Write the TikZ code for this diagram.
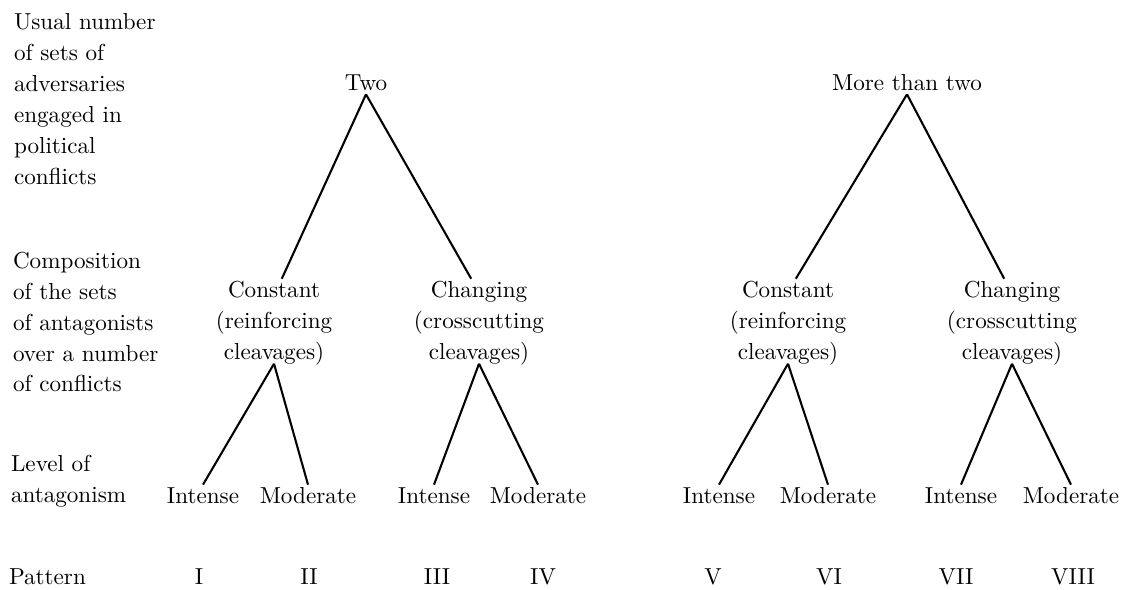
\documentclass[tikz,border=0pt]{standalone}
\usepackage{tikz}
\tikzset{
    heading/.style = {anchor=west, align=left, inner sep=0pt},
    branch/.style = {align=center, inner sep=0.5pt},
    leaf/.style = {inner sep=1pt, text height=1.6ex, text depth=0pt},
    numeral/.style = {inner sep=0pt}}
\begin{document}
\begin{tikzpicture}[x=0.0152cm, y=-0.0152cm, line width=0.9pt,
    font=\fontsize{10pt}{13.4pt}\selectfont]
    \useasboundingbox (0,0) rectangle (1126,590);
    % row labels
    \node (L1) [heading] at (13,99) {Usual number\\of sets of\\adversaries\\engaged in\\political\\conflicts};
    \node (L2) [heading] at (12,322) {Composition\\of the sets\\of antagonists\\over a number\\of conflicts};
    \node (L3) [heading] at (10,481) {Level of\\antagonism};
    \node (L4) [heading] at (8,577) {Pattern};
    % number of sets
    \node (T) [leaf] at (366,83) {Two};
    \node (M) [leaf] at (907,83) {More than two};
    % composition of the sets
    \node (Ct1) [branch] at (274,323) {Constant\\(reinforcing\\cleavages)};
    \node (Ch1) [branch] at (479,323) {Changing\\(crosscutting\\cleavages)};
    \node (Ct2) [branch] at (788,323) {Constant\\(reinforcing\\cleavages)};
    \node (Ch2) [branch] at (1012,323) {Changing\\(crosscutting\\cleavages)};
    % level of antagonism
    \node (I1) [leaf] at (203,496) {Intense};
    \node (M1) [leaf] at (308,496) {Moderate};
    \node (I2) [leaf] at (434,496) {Intense};
    \node (M2) [leaf] at (538,496) {Moderate};
    \node (I3) [leaf] at (719,496) {Intense};
    \node (M3) [leaf] at (828,496) {Moderate};
    \node (I4) [leaf] at (961,496) {Intense};
    \node (M4) [leaf] at (1071,496) {Moderate};
    % patterns
    \foreach \x/\r [count=\i] in {199/I, 309/II, 437/III, 543/IV, 713/V, 829/VI, 956/VII, 1073/VIII}
        \node (P\i) [numeral] at (\x,577) {\r};
    \draw (T.south) -- (Ct1.80);
    \draw (T.south) -- (Ch1.100);
    \draw (M.south) -- (Ct2.80);
    \draw (M.south) -- (Ch2.100);
    \draw ([yshift=1.5pt]Ct1.south) -- (I1.north);
    \draw ([yshift=1.5pt]Ct1.south) -- (M1.north);
    \draw ([yshift=1.5pt]Ch1.south) -- (I2.north);
    \draw ([yshift=1.5pt]Ch1.south) -- (M2.north);
    \draw ([yshift=1.5pt]Ct2.south) -- (I3.north);
    \draw ([yshift=1.5pt]Ct2.south) -- (M3.north);
    \draw ([yshift=1.5pt]Ch2.south) -- (I4.north);
    \draw ([yshift=1.5pt]Ch2.south) -- (M4.north);
\end{tikzpicture}
\end{document}
